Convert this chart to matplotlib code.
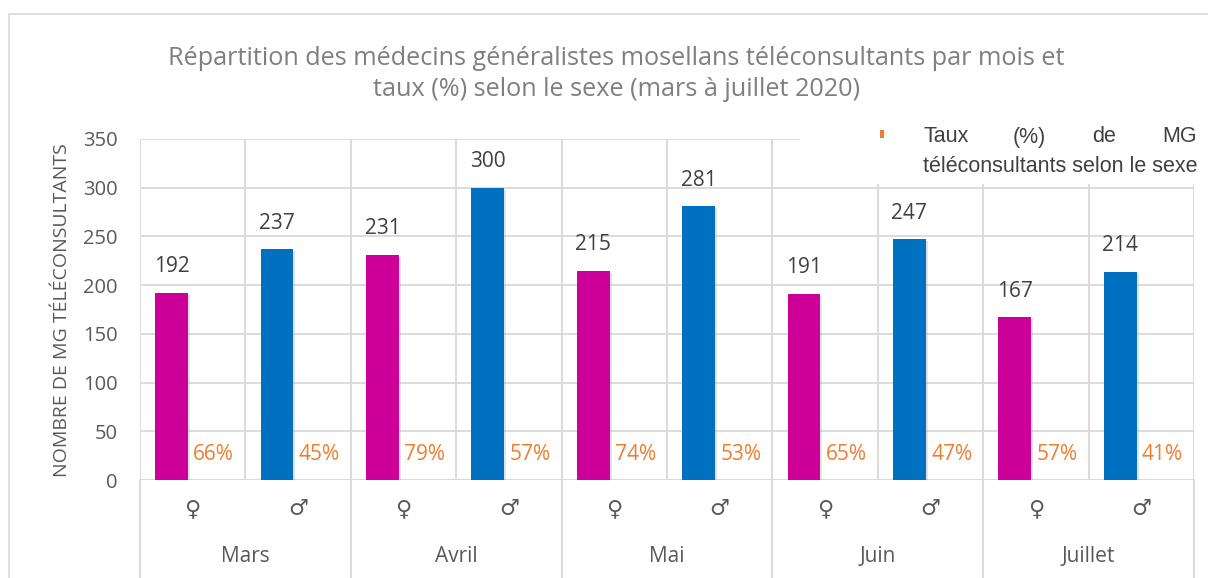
import matplotlib
matplotlib.use("Agg")
import matplotlib.pyplot as plt
from matplotlib import patheffects as pe
from matplotlib.lines import Line2D
from matplotlib.patches import Rectangle

months = ["Mars", "Avril", "Mai", "Juin", "Juillet"]
sexes = ["♀", "♂"]
counts = [192, 237, 231, 300, 215, 281, 191, 247, 167, 214]
taux = ["66%", "45%", "79%", "57%", "74%", "53%", "65%", "47%", "57%", "41%"]
bar_colors = ["#CC0099", "#0070C0"]
yticks = [0, 50, 100, 150, 200, 250, 300, 350]
title = ("Répartition des médecins généralistes mosellans téléconsultants par mois et\n"
         "taux (%) selon le sexe (mars à juillet 2020)")
ylabel = "NOMBRE DE MG TÉLÉCONSULTANTS"
legend_l1 = ["Taux", "(%)", "de", "MG"]
legend_l2 = "téléconsultants selon le sexe"

W, H = 1208, 578
fig = plt.figure(figsize=(W / 100, H / 100), dpi=100)
plt.rcParams['font.family'] = ['Open Sans', 'DejaVu Sans']

def fx(px): return px / W
def fy(py): return 1 - py / H
PT = 72 / 100  # points per pixel

# outer chart border
fig.patches.append(Rectangle((fx(9), fy(580)), fx(1300), fy(14) - fy(580),
                             transform=fig.transFigure, fill=False,
                             edgecolor="#d9d9d9", lw=1.2))

ax_l, ax_r, ax_t, ax_b = 140, 1194, 139, 480
ax = fig.add_axes([fx(ax_l), fy(ax_b), fx(ax_r - ax_l), fy(ax_t) - fy(ax_b)])
n = len(counts)
ax.set_xlim(-0.5, n - 0.5)
ax.set_ylim(0, 350)
ax.set_yticks(yticks)
ax.set_yticklabels([str(v) for v in yticks], fontsize=14.5, color="#595959")
ax.tick_params(axis='y', length=0, pad=16)
ax.set_xticks([])
for s in ax.spines.values():
    s.set_visible(False)
grid_c = "#d9d9d9"
for v in yticks[1:]:
    ax.axhline(v, color=grid_c, lw=1.3, zorder=0)
for i in range(n + 1):
    ax.axvline(i - 0.5, color=grid_c, lw=1.3, zorder=0)
ax.axhline(0, color=grid_c, lw=1.5, zorder=1)

xs = list(range(n))
off = 0.2
shadow = [pe.SimplePatchShadow(offset=(1.5, -1.5), shadow_rgbFace="#b0b0b0", alpha=0.35), pe.Normal()]
for i in xs:
    ax.bar(i - off, counts[i], width=0.31, color=bar_colors[i % 2], zorder=3,
           path_effects=shadow)
    ax.annotate(str(counts[i]), (i - off, counts[i]), xytext=(0, 26 * PT), textcoords="offset points",
                ha="center", va="center", fontsize=15, color="#404040")
    ax.annotate(taux[i], (i + off, 0), xytext=(0, 26 * PT), textcoords="offset points",
                ha="center", va="center", fontsize=15, color="#ED7D31", zorder=4)

# multi-level category axis
trans = ax.get_xaxis_transform()
ybot = -(H - ax_b) / (ax_b - ax_t) - 0.02
for j in range(len(months) + 1):
    ax.add_line(Line2D([2 * j - 0.5, 2 * j - 0.5], [0, ybot], transform=trans,
                       color=grid_c, lw=1.3, clip_on=False))
for i in xs:
    ax.text(i, -(509 - ax_b) / (ax_b - ax_t), sexes[i % 2], transform=trans,
            ha="center", va="center", fontsize=16, color="#595959",
            family=["DejaVu Sans"])
for j, m in enumerate(months):
    ax.text(2 * j + 0.5, -(557 - ax_b) / (ax_b - ax_t), m, transform=trans,
            ha="center", va="center", fontsize=15, color="#595959")

# y label
fig.text(fx(62), fy(310), ylabel, rotation=90, ha="center", va="center",
         fontsize=14, color="#595959")

# title
fig.text(fx(616), fy(74), title, ha="center", va="center", fontsize=18.2,
         color="#7f7f7f", linespacing=1.36)

# legend box covering the grid
fig.patches.append(Rectangle((fx(800), fy(184)), fx(1204 - 800), fy(116) - fy(184),
                             transform=fig.transFigure, facecolor="white",
                             edgecolor="none", zorder=5))
fig.patches.append(Rectangle((fx(880), fy(138)), fx(4), fy(130) - fy(138),
                             transform=fig.transFigure, facecolor="#ED7D31",
                             edgecolor="none", zorder=6))
lx0, lx1 = 923, 1197
pos = [lx0, 1029, 1104, lx1]
has = ["left", "center", "center", "right"]
for w, p, h in zip(legend_l1, pos, has):
    fig.text(fx(p), fy(137), w, ha=h, va="center", fontsize=15.5, color="#404040",
             family=["Liberation Sans"], zorder=7)
fig.text(fx(lx0), fy(166), legend_l2, ha="left", va="center", fontsize=15.5,
         color="#404040", family=["Liberation Sans"], zorder=7)

fig.savefig("out.png", dpi=100, facecolor="white")
